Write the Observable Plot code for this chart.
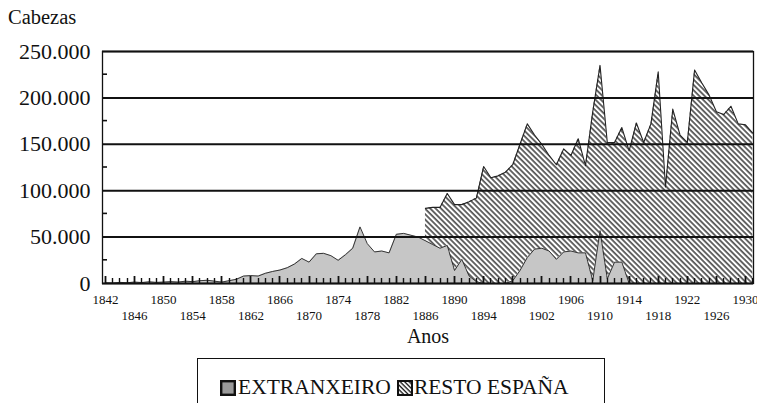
<!DOCTYPE html>
<html>
<head>
<meta charset="utf-8">
<script src="https://cdn.jsdelivr.net/npm/d3@7"></script>
<script src="https://cdn.jsdelivr.net/npm/@observablehq/plot@0.6"></script>
<style>
  body { margin: 0; background: #fff; }
  #wrap { position: relative; width: 757px; height: 403px; overflow: hidden;
          font-family: "Liberation Serif", "Times New Roman", serif; color: #111; background: #fff; }
  #chart { position: absolute; left: 0; top: 0; }
  #title { position: absolute; left: 8px; top: 6px; font-size: 20.5px; }
  #xlabel { position: absolute; left: 378px; width: 100px; top: 325px; text-align: center; font-size: 20px; }
  #legend { position: absolute; left: 197px; top: 358px; width: 408px; height: 60px;
            border: 1.6px solid #111; box-sizing: border-box; }
  #legend .item { position: absolute; top: 16px; font-size: 21.5px; line-height: 24px; white-space: nowrap; }
  #legend svg { position: absolute; }
</style>
</head>
<body>
<div id="wrap">
  <div id="chart"></div>
  <div id="title">Cabezas</div>
  <div id="xlabel">Anos</div>
  <div id="legend"></div>
</div>
<script>
// ---- data ----
const years = [1842,1843,1844,1845,1846,1847,1848,1849,1850,1851,1852,1853,1854,1855,1856,1857,1858,1859,1860,1861,
  1862,1863,1864,1865,1866,1867,1868,1869,1870,1871,1872,1873,1874,1875,1876,1877,1878,1879,1880,1881,
  1882,1883,1884,1885,1886,1887,1888,1889,1890,1891,1892,1893,1894,1895,1896,1897,1898,1899,1900,1901,
  1902,1903,1904,1905,1906,1907,1908,1909,1910,1911,1912,1913,1914,1915,1916,1917,1918,1919,1920,1921,
  1922,1923,1924,1925,1926,1927,1928,1929,1930,1931];

// EXTRANXEIRO (head of cattle), 1842-1931
const extranxeiro = [800,500,1200,800,1500,1000,1800,1200,1500,2000,
  1500,2500,2000,3000,3500,2500,1500,3000,4500,8000,
  8500,8000,11000,13000,14500,17000,21000,27000,23000,32000,
  32500,30000,25000,31000,38000,61000,43000,34000,35000,33000,
  53000,54000,52000,50000,46000,42000,38000,41000,14000,26000,
  8000,2000,0,0,0,0,3000,14000,28000,37000,
  38000,35000,26000,34000,35000,33000,33000,3000,57000,5000,
  23000,23000,0,0,0,0,0,0,0,0,
  0,0,0,0,0,0,0,0,0,0];

// RESTO ESPAÑA, 1886-1931 (top of the stack = EXTRANXEIRO + RESTO ESPAÑA)
const restoYears = [1886,1887,1888,1889,1890,1891,1892,1893,1894,1895,1896,1897,1898,1899,1900,1901,
  1902,1903,1904,1905,1906,1907,1908,1909,1910,1911,1912,1913,1914,1915,1916,1917,1918,1919,1920,1921,
  1922,1923,1924,1925,1926,1927,1928,1929,1930,1931];
const total = [81000,82000,82000,97000,85000,85000,88000,92000,126000,114000,116000,120000,128000,150000,172000,160000,
  150000,138000,128000,145000,138000,156000,127000,185000,235000,152000,152000,168000,143000,173000,152000,172000,
  228000,104000,188000,160000,152000,230000,216000,203000,185000,182000,191000,172000,171000,162000];

const yTicks = [0, 50000, 100000, 150000, 200000, 250000];
const yMinor = [25000, 75000, 125000, 175000, 225000];
const gridLines = [50000, 100000, 150000, 200000];
const xRow1 = [1842,1850,1858,1866,1874,1882,1890,1898,1906,1914,1922,1930];
const xRow2 = [1846,1854,1862,1870,1878,1886,1894,1902,1910,1918,1926];
const xMajorTicks = [1842,1846,1850,1854,1858,1862,1866,1870,1874,1878,1882,1886,1890,1894,1898,1902,1906,1910,1914,1918,1922,1926,1930];
const xDomain = [1841.6, 1931.1];
const yDomain = [0, 250000];

// ---- tables ----
const eRows = years.map((yr, i) => ({year: yr, e: extranxeiro[i]}));
const eByYear = new Map(eRows.map(d => [d.year, d.e]));
const rRows = restoYears.map((yr, i) => ({year: yr, e: eByYear.get(yr), t: total[i], resto: total[i] - eByYear.get(yr)}));

const fmt = d => d === 0 ? "0" : d3.format(",")(d).replace(/,/g, ".");
const ink = "#111";

// inward tick marks drawn through the plot's own scales
function innerTicks(index, scales) {
  const g = d3.create("svg:g").attr("stroke", ink).attr("fill", "none");
  const y0 = scales.y(0);
  const xL = scales.x(xDomain[0]);
  const major = new Set(xMajorTicks);
  for (const yr of years) {
    const px = Math.round(scales.x(yr)) + 0.5;
    const len = major.has(yr) ? 7 : 5;
    g.append("line").attr("x1", px).attr("x2", px).attr("y1", y0).attr("y2", y0 - len)
      .attr("stroke-width", major.has(yr) ? 1.8 : 1.4);
  }
  for (const v of yMinor) {
    const py = scales.y(v);
    g.append("line").attr("x1", xL).attr("x2", xL + 5).attr("y1", py).attr("y2", py).attr("stroke-width", 1.6);
  }
  return g.node();
}

const plot = Plot.plot({
  width: 757, height: 403,
  marginLeft: 102, marginRight: 4, marginTop: 51, marginBottom: 120,
  style: {background: "transparent", color: ink, fontFamily: "'Liberation Serif', 'Times New Roman', serif"},
  x: {domain: xDomain, axis: null},
  y: {domain: yDomain, axis: null},
  marks: [
    Plot.areaY(eRows, {x: "year", y1: 0, y2: "e", fill: "#c6c6c6"}),
    Plot.areaY(rRows, {x: "year", y1: "e", y2: "t", fill: "url(#hatch)"}),
    Plot.lineY(eRows, {x: "year", y: "e", stroke: "#333", strokeWidth: 1}),
    Plot.lineY(rRows, {x: "year", y: "t", stroke: "#222", strokeWidth: 1.1}),
    Plot.ruleY(gridLines, {stroke: ink, strokeWidth: 2}),
    Plot.ruleY([yDomain[1]], {stroke: ink, strokeWidth: 2}),
    Plot.ruleY([0], {stroke: ink, strokeWidth: 2}),
    Plot.frame({stroke: ink, strokeWidth: 1.3}),
    innerTicks,
    Plot.axisY({ticks: yTicks, tickSize: 0, tickPadding: 12, fontSize: 22, tickFormat: fmt, label: null}),
    Plot.axisX({ticks: xRow1, tickSize: 0, tickPadding: 11, fontSize: 13, tickFormat: d => String(d), label: null}),
    Plot.axisX({ticks: xRow2, tickSize: 0, tickPadding: 27, fontSize: 13, tickFormat: d => String(d), label: null})
  ]
});

// hatch pattern
const defs = d3.select(plot).insert("defs", ":first-child");
const pat = defs.append("pattern").attr("id", "hatch").attr("patternUnits", "userSpaceOnUse")
  .attr("width", 3.8).attr("height", 3.8).attr("patternTransform", "rotate(-45)");
pat.append("rect").attr("width", 3.8).attr("height", 3.8).attr("fill", "#fff");
pat.append("line").attr("x1", 1).attr("y1", 0).attr("x2", 1).attr("y2", 3.8)
  .attr("stroke", "#1a1a1a").attr("stroke-width", 1.3);

document.getElementById("chart").appendChild(plot);

// legend
const legendItems = [
  {label: "EXTRANXEIRO", kind: "solid"},
  {label: "RESTO ESPAÑA", kind: "hatch"}
];
const lg = d3.select("#legend");
const pos = [{icon: 22, text: 40}, {icon: 150, text: 167}];
legendItems.forEach((it, i) => {
  const s = lg.append("svg").attr("width", 16).attr("height", 16)
    .style("left", pos[i].icon + "px").style("top", "21px");
  if (it.kind === "hatch") {
    const p = s.append("defs").append("pattern").attr("id", "hatchL").attr("patternUnits", "userSpaceOnUse")
      .attr("width", 3.2).attr("height", 3.2).attr("patternTransform", "rotate(-45)");
    p.append("rect").attr("width", 3.2).attr("height", 3.2).attr("fill", "#fff");
    p.append("line").attr("x1", 1).attr("y1", 0).attr("x2", 1).attr("y2", 3.2).attr("stroke", "#111").attr("stroke-width", 1.3);
    s.append("rect").attr("x", 1).attr("y", 1).attr("width", 14).attr("height", 14)
      .attr("fill", "url(#hatchL)").attr("stroke", "#111").attr("stroke-width", 2);
  } else {
    s.append("rect").attr("x", 1.2).attr("y", 1.2).attr("width", 13.6).attr("height", 13.6)
      .attr("fill", "#9a9a9a").attr("stroke", "#111").attr("stroke-width", 2.4);
  }
  lg.append("div").attr("class", "item").style("left", pos[i].text + "px").text(it.label);
});
// place second item right after first label
const items = document.querySelectorAll("#legend .item");
const w0 = items[0].getBoundingClientRect().width;
const svgs = document.querySelectorAll("#legend svg");
svgs[1].style.left = (40 + w0 + 6) + "px";
items[1].style.left = (40 + w0 + 23) + "px";
</script>
</body>
</html>
